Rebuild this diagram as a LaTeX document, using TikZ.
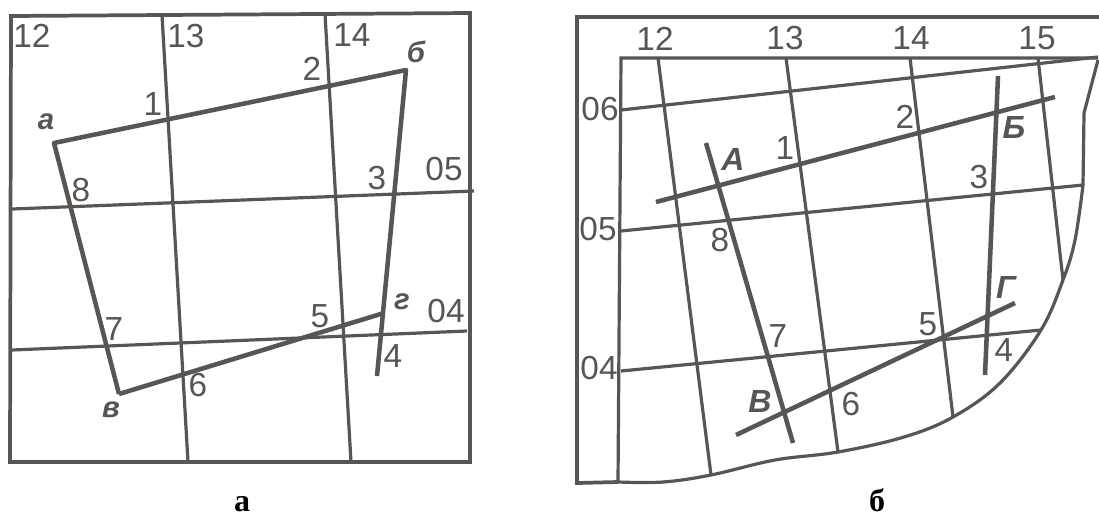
\documentclass[tikz,border=0pt]{standalone}
\usepackage{fontspec}
\setmainfont{Liberation Sans}
\newfontfamily\capfont{Liberation Serif}
\usepackage{tikz}
\definecolor{ink}{HTML}{595553}

\begin{document}
\begin{tikzpicture}[
  x=0.75pt, y=-0.75pt,
  thin line/.style={draw=ink, line width=2.4pt},
  frame line/.style={draw=ink, line width=2.8pt, line join=miter},
  thick line/.style={draw=ink, line width=3.4pt, line join=round},
  num/.style={text=ink, font=\fontsize{25}{25}\selectfont, inner sep=0pt},
  mark letter/.style={text=ink, font=\fontsize{24}{24}\selectfont\bfseries\itshape, inner sep=0pt},
  small letter/.style={text=ink, font=\fontsize{22}{22}\selectfont\bfseries\itshape, inner sep=0pt},
  caption label/.style={font=\fontsize{24}{24}\selectfont\capfont\bfseries, inner sep=0pt, anchor=base}
]
\useasboundingbox (0,0) rectangle (1099,519);

% panel a
\coordinate (aTL) at (11,16);
\coordinate (aTR) at (470,13);
\coordinate (aBR) at (470,462);
\coordinate (aBL) at (10,462);
\coordinate (a13t) at (162,15);
\coordinate (a13b) at (188,462);
\coordinate (a14t) at (325,14);
\coordinate (a14b) at (351,462);
\coordinate (a05l) at (12,209);
\coordinate (a05r) at (474,191);
\coordinate (a04l) at (12,350);
\coordinate (a04r) at (467,331);
\coordinate (qa) at (54,143);
\coordinate (qb) at (406,70);
\coordinate (qv) at (119,394);
\coordinate (qg) at (384,313);
\coordinate (qe) at (377,376);

\draw[frame line] (aTL) -- (aTR) -- (aBR) -- (aBL) -- cycle;
\draw[thin line] (a13t) -- (a13b);
\draw[thin line] (a14t) -- (a14b);
\draw[thin line] (a05l) -- (a05r);
\draw[thin line] (a04l) -- (a04r);
\draw[thick line] (qv) -- (qa) -- (qb) -- (qe);
\draw[thick line] (qv) -- (qg);

\node[num] (a12) at (32,36) {12};
\node[num] (a13) at (186,36) {13};
\node[num] (a14) at (352,35) {14};
\node[num] (a05) at (444,169) {05};
\node[num] (a04) at (446,311) {04};
\node[num] (a1) at (153,104) {1};
\node[num] (a2) at (312,69) {2};
\node[num] (a3) at (377,178) {3};
\node[num] (a4) at (393,356) {4};
\node[num] (a5) at (320,316) {5};
\node[num] (a6) at (198,385) {6};
\node[num] (a7) at (114,329) {7};
\node[num] (a8) at (81,190) {8};
\node[small letter] (la) at (46,122) {а};
\node[small letter] (lb) at (416,52) {б};
\node[small letter] (lv) at (111,410) {в};
\node[small letter] (lg) at (402,302) {г};
\node[caption label] (capa) at (242,511) {а};

% panel b
\coordinate (bTL) at (577,17);
\coordinate (bTR) at (1099,17);
\coordinate (bBL) at (577,483);
\coordinate (iTL) at (621,58);
\coordinate (iTR) at (1098,58);
\coordinate (iBL) at (618,482);
\coordinate (c1) at (663,482);
\coordinate (c2) at (711,475);
\coordinate (c3) at (775,460);
\coordinate (c4) at (838,452);
\coordinate (c5) at (904,437);
\coordinate (c6) at (953,417);
\coordinate (c7) at (1000,383);
\coordinate (c8) at (1041,330);
\coordinate (c9) at (1063,280);
\coordinate (c10) at (1075,240);
\coordinate (c11) at (1083,185);
\coordinate (c12) at (1084,113);
\coordinate (c13) at (1098,60);
\coordinate (b12t) at (658,58);
\coordinate (b13t) at (786,58);
\coordinate (b14t) at (910,58);
\coordinate (b15t) at (1038,58);
\coordinate (b06l) at (621,110);
\coordinate (b06r) at (1098,57);
\coordinate (b05l) at (621,231);
\coordinate (b04l) at (621,371);
\coordinate (pAl) at (656,202);
\coordinate (pBr) at (1055,97);
\coordinate (pAt) at (706,143);
\coordinate (pVb) at (793,443);
\coordinate (pBt) at (998,76);
\coordinate (pGb) at (985,375);
\coordinate (pVl) at (736,435);
\coordinate (pGr) at (1015,303);

\draw[frame line] (bTR) -- (bTL) -- (bBL) -- (iBL);
\draw[thin line] (iTR) -- (iTL) -- (iBL);
\draw[thin line] plot[smooth, tension=0.6] coordinates {(iBL) (c1) (c2) (c3) (c4) (c5) (c6) (c7) (c8) (c9) (c10) (c11)};
\draw[thin line] (c11) -- (c12) -- (c13);
\draw[thin line] (b12t) -- (c2);
\draw[thin line] (b13t) -- (c4);
\draw[thin line] (b14t) -- (c6);
\draw[thin line] (b15t) -- (c9);
\draw[thin line] (b06l) -- (b06r);
\draw[thin line] (b05l) -- (c11);
\draw[thin line] (b04l) -- (c8);
\draw[thick line] (pAl) -- (pBr);
\draw[thick line] (pAt) -- (pVb);
\draw[thick line] (pBt) -- (pGb);
\draw[thick line] (pVl) -- (pGr);

\node[num] (b12) at (655,39) {12};
\node[num] (b13) at (785,38) {13};
\node[num] (b14) at (911,38) {14};
\node[num] (b15) at (1037,38) {15};
\node[num] (b06) at (600,109) {06};
\node[num] (b05) at (598,229) {05};
\node[num] (b04) at (599,368) {04};
\node[num] (b1) at (785,148) {1};
\node[num] (b2) at (905,117) {2};
\node[num] (b3) at (979,177) {3};
\node[num] (b4) at (1004,350) {4};
\node[num] (b5) at (928,324) {5};
\node[num] (b6) at (851,404) {6};
\node[num] (b7) at (778,336) {7};
\node[num] (b8) at (720,240) {8};
\node[mark letter] (lA) at (733,159) {А};
\node[mark letter] (lB) at (1014,127) {Б};
\node[mark letter] (lV) at (760,401) {В};
\node[mark letter] (lG) at (1006,287) {Г};
\node[caption label] (capb) at (877,511) {б};
\end{tikzpicture}
\end{document}
